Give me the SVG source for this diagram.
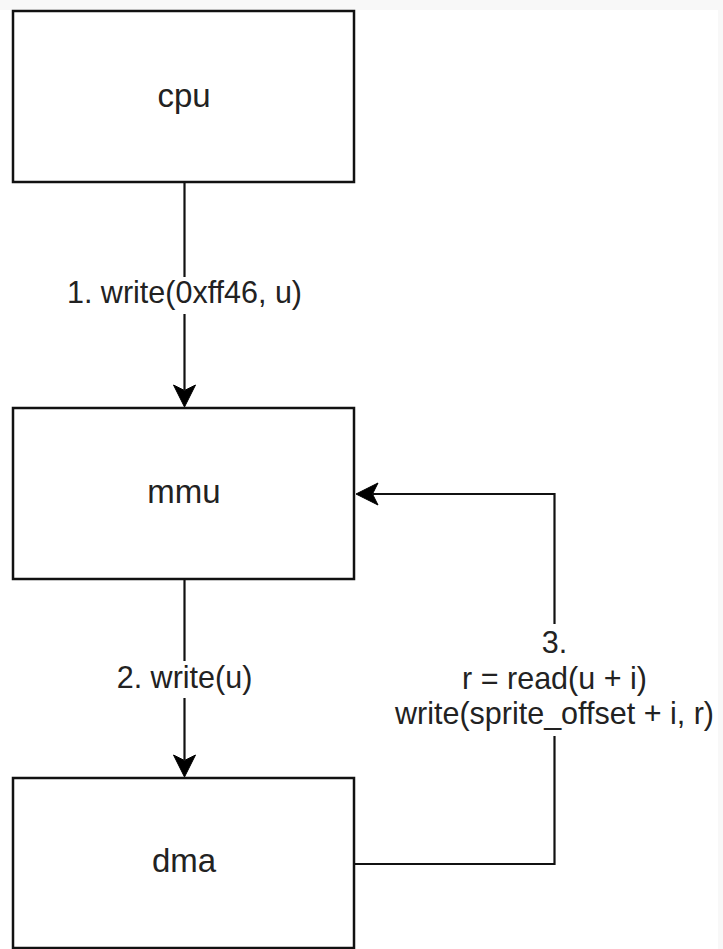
<svg xmlns="http://www.w3.org/2000/svg" width="723" height="949" viewBox="0 0 723 949">
<style>
.box{fill:#ffffff;stroke:#111111;stroke-width:2.5}
.edge{fill:none;stroke:#111111;stroke-width:2.2}
.head{fill:#000000;stroke:#000000;stroke-width:1}
.nl{font-family:"Liberation Sans",Arial,sans-serif;font-size:33px;fill:#222222;text-anchor:middle}
.el{font-family:"Liberation Sans",Arial,sans-serif;font-size:30.5px;fill:#222222;text-anchor:middle}
.lbg{fill:#ffffff}
</style>
<rect x="0" y="0" width="723" height="949" fill="#f8f8f8"/>
<rect x="0" y="10" width="718" height="939" fill="#ffffff"/>
<g id="connectors">
  <g id="e1">
    <path class="edge" d="M184.5 182 L184.5 390"/>
    <path class="head" d="M184.5 407 L173.5 385 L184.5 390.5 L195.5 385 Z"/>
    <rect class="lbg" x="60" y="277" width="250" height="37"/>
    <text class="el" x="184.5" y="303">1. write(0xff46, u)</text>
  </g>
  <g id="e2">
    <path class="edge" d="M184.5 579 L184.5 760"/>
    <path class="head" d="M184.5 777 L173.5 755 L184.5 760.5 L195.5 755 Z"/>
    <rect class="lbg" x="110" y="661" width="150" height="37"/>
    <text class="el" x="184.5" y="688">2. write(u)</text>
  </g>
  <g id="e3">
    <path class="edge" d="M355 864 L554.5 864 L554.5 494 L373 494"/>
    <path class="head" d="M356 494 L378 483 L372.5 494 L378 505 Z"/>
    <rect class="lbg" x="400" y="624" width="318" height="112"/>
    <text class="el" x="554.5" y="653">3.</text>
    <text class="el" x="554.5" y="689">r = read(u + i)</text>
    <text class="el" x="554.5" y="724">write(sprite_offset + i, r)</text>
  </g>
</g>
<g id="cpu">
  <rect class="box" x="13" y="11" width="341" height="171"/>
  <text class="nl" x="184" y="107">cpu</text>
</g>
<g id="mmu">
  <rect class="box" x="13" y="408" width="341" height="171"/>
  <text class="nl" x="184" y="503">mmu</text>
</g>
<g id="dma">
  <rect class="box" x="13" y="778" width="341" height="170"/>
  <text class="nl" x="184" y="872">dma</text>
</g>
</svg>
